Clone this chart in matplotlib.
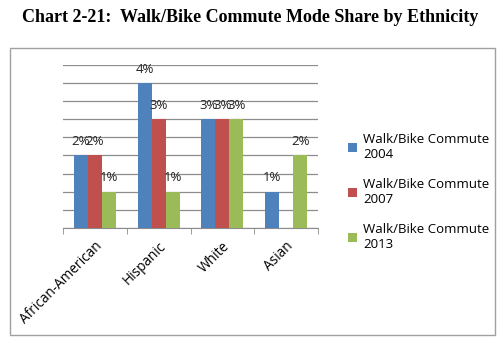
import matplotlib
matplotlib.use("Agg")
import matplotlib.pyplot as plt
from matplotlib.patches import Rectangle
import numpy as np

categories = ["African-American", "Hispanic", "White", "Asian"]
series_names = ["Walk/Bike Commute\n2004", "Walk/Bike Commute\n2007", "Walk/Bike Commute\n2013"]
v2004 = [0.02, 0.04, 0.03, 0.01]
v2007 = [0.02, 0.03, 0.03, None]
v2013 = [0.01, 0.01, 0.03, 0.02]
colors = ["#4F81BD", "#C0504D", "#9BBB59"]
title = "Chart 2-21:  Walk/Bike Commute Mode Share by Ethnicity"

fig = plt.figure(figsize=(5, 3.43), dpi=100)
fig.patch.set_facecolor("white")

# chart border
fig.patches.append(Rectangle((0.02, 0.0233), 0.97, 0.837, transform=fig.transFigure,
                             fill=False, edgecolor="#A0A0A0", linewidth=1.0))

fig.text(0.5, 0.948, title, ha="center", va="center", fontsize=13,
         fontweight="bold", family="Liberation Serif")

ax = fig.add_axes([0.126, 0.336, 0.51, 0.474])
x = np.arange(len(categories))
w = 0.22
allv = [v2004, v2007, v2013]
for i, (vals, c, name) in enumerate(zip(allv, colors, series_names)):
    xs = [xx + (i - 1) * w for xx, v in zip(x, vals) if v is not None]
    ys = [v for v in vals if v is not None]
    ax.bar(xs, ys, width=w, color=c, label=name, zorder=3)
    for xx, yy in zip(xs, ys):
        ax.text(xx, yy + 0.0020, f"{yy*100:.0f}%", ha="center", va="bottom",
                fontsize=9.5, family="Open Sans", color="#222222", zorder=4)

ax.set_xlim(-0.5, len(categories) - 0.5)
ax.set_ylim(0, 0.045)
ax.set_yticks(np.arange(0, 0.0451, 0.005))
ax.yaxis.grid(True, color="#8C8C8C", linewidth=0.9, zorder=0)
ax.set_yticklabels([])
ax.tick_params(axis="y", length=0)
for s in ["left", "right", "top"]:
    ax.spines[s].set_visible(False)
ax.spines["bottom"].set_color("#8C8C8C")
ax.set_xticks(x)
ax.set_xticks(np.arange(-0.5, len(categories)), minor=True)
ax.tick_params(axis="x", which="major", length=0, pad=8)
ax.tick_params(axis="x", which="minor", length=4, color="#8C8C8C")
ax.set_xticklabels(categories, rotation=45, ha="right", rotation_mode="anchor",
                   fontsize=9.8, family="Open Sans")

leg = fig.legend(loc="center left", bbox_to_anchor=(0.672, 0.44), frameon=False,
                 prop={"family": "Open Sans", "size": 9.5},
                 handlelength=0.7, handleheight=0.7, handletextpad=0.45,
                 labelspacing=1.28)

fig.savefig("out.png", dpi=100)
